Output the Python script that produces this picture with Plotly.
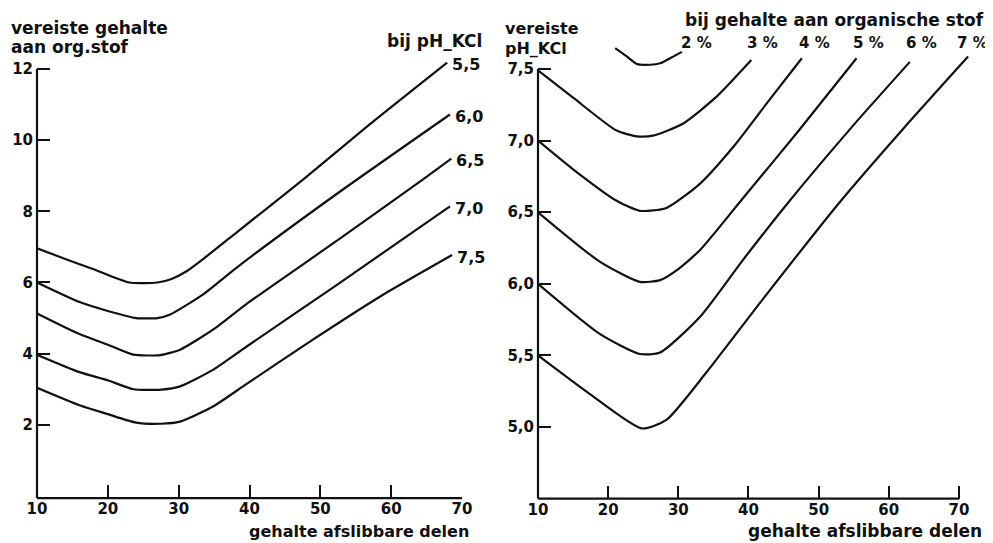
import plotly.graph_objects as go

# Page is shown with an 8px body margin, so the figure is laid out in page pixels minus that.
PAGE_W, PAGE_H = 993, 543
OFF = 8
W, H = PAGE_W - OFF, PAGE_H - OFF

# ---------------- Left chart: required organic matter (%) per pH-KCl ----------------
ph_labels = ["5,5", "6,0", "6,5", "7,0", "7,5"]
x_ph55 = [10, 14, 18, 23, 27, 29, 31, 33.4, 38.2, 47.6, 57, 67.9]
y_ph55 = [6.96, 6.66, 6.37, 6.0, 6.0, 6.1, 6.3, 6.65, 7.41, 8.9, 10.45, 12.18]
x_ph60 = [10, 16, 20, 24, 27, 28.8, 33.4, 38.2, 52.4, 68.3]
y_ph60 = [6.0, 5.45, 5.2, 5.0, 5.0, 5.1, 5.66, 6.42, 8.5, 10.72]
x_ph65 = [10, 16, 20, 23.6, 27.4, 30.2, 34.9, 39.6, 52.6, 64.5, 68.5]
y_ph65 = [5.13, 4.55, 4.25, 3.97, 3.96, 4.11, 4.68, 5.4, 7.21, 8.9, 9.48]
x_ph70 = [10, 16, 20, 23.6, 27.6, 30.2, 34.9, 39.6, 52.4, 68.3]
y_ph70 = [3.97, 3.48, 3.25, 3.0, 2.99, 3.08, 3.55, 4.2, 5.94, 8.14]
x_ph75 = [10, 16, 20, 24, 27.5, 30.2, 34.9, 39.6, 49, 58.4, 68.6]
y_ph75 = [3.04, 2.55, 2.3, 2.06, 2.03, 2.09, 2.52, 3.15, 4.4, 5.6, 6.77]
left_series = [(x_ph55, y_ph55), (x_ph60, y_ph60), (x_ph65, y_ph65),
               (x_ph70, y_ph70), (x_ph75, y_ph75)]
left_yticks = [2, 4, 6, 8, 10, 12]

# ---------------- Right chart: required pH-KCl per organic matter % ----------------
om_labels = ["2 %", "3 %", "4 %", "5 %", "6 %", "7 %"]
x_om2 = [21, 22.6, 24.1, 26, 27.4, 29, 30.5]
y_om2 = [7.646, 7.59, 7.535, 7.53, 7.54, 7.58, 7.62]
x_om3 = [10, 15, 21.2, 24.1, 26.4, 30.7, 35.45, 40.4]
y_om3 = [7.49, 7.30, 7.07, 7.03, 7.035, 7.12, 7.307, 7.563]
x_om4 = [10, 15, 21.2, 24.5, 28.3, 33.1, 37.85, 42.6, 47.6]
y_om4 = [7.0, 6.80, 6.58, 6.51, 6.53, 6.70, 6.957, 7.26, 7.575]
x_om5 = [10, 18.8, 24.5, 27.4, 29.8, 33.1, 39, 47, 55.4]
y_om5 = [6.5, 6.155, 6.014, 6.026, 6.096, 6.236, 6.585, 7.06, 7.575]
x_om6 = [10, 18.8, 24.5, 27.4, 33.1, 39.2, 45.7, 55, 63]
y_om6 = [6.0, 5.65, 5.51, 5.52, 5.77, 6.166, 6.57, 7.11, 7.55]
x_om7 = [10, 17.4, 24.8, 28.3, 33.9, 42, 53, 62, 71.3]
y_om7 = [5.5, 5.23, 4.99, 5.05, 5.375, 5.89, 6.57, 7.08, 7.587]
right_series = [(x_om2, y_om2), (x_om3, y_om3), (x_om4, y_om4),
                (x_om5, y_om5), (x_om6, y_om6), (x_om7, y_om7)]
right_yticks = [5.0, 5.5, 6.0, 6.5, 7.0, 7.5]
right_yticktext = ["5,0", "5,5", "6,0", "6,5", "7,0", "7,5"]

xticks = [10, 20, 30, 40, 50, 60, 70]

# axis ranges
L_XR = [10, 70]
L_YR = [-0.06, 12.3]
R_XR = [10, 72]
R_YR = [4.5, 7.7]

FONT = "DejaVu Sans"
INK = "#111111"


def pxx(xp):
    return (xp - OFF) / W


def pxy(yp):
    return 1 - (yp - OFF) / H


fig = go.Figure()

line_style = dict(color=INK, width=2.2, shape="spline", smoothing=0.6)
for xs, ys in left_series:
    fig.add_trace(go.Scatter(x=xs, y=ys, mode="lines", line=line_style,
                             xaxis="x", yaxis="y", showlegend=False, hoverinfo="skip"))
for xs, ys in right_series:
    fig.add_trace(go.Scatter(x=xs, y=ys, mode="lines", line=line_style,
                             xaxis="x2", yaxis="y2", showlegend=False, hoverinfo="skip"))

tickfont = dict(family=FONT, size=15, color=INK, weight="bold")
axis_common = dict(showgrid=False, zeroline=False, showline=False, automargin=False,
                   ticks="inside", ticklen=13, tickwidth=2, tickcolor=INK,
                   tickfont=tickfont, fixedrange=True)

fig.update_layout(
    width=W, height=H,
    margin=dict(l=0, r=0, t=0, b=0, autoexpand=False),
    paper_bgcolor="white", plot_bgcolor="white",
    xaxis=dict(domain=[pxx(37), pxx(462)], range=L_XR, tickvals=xticks,
               anchor="y", **axis_common),
    yaxis=dict(domain=[pxy(498.1), pxy(58.3)], range=L_YR, tickvals=left_yticks,
               anchor="x", ticklabelstandoff=3, **axis_common),
    xaxis2=dict(domain=[pxx(538), pxx(973)], range=R_XR, tickvals=xticks,
                anchor="y2", **axis_common),
    yaxis2=dict(domain=[pxy(498.6), pxy(40.4)], range=R_YR, tickvals=right_yticks,
                ticktext=right_yticktext, anchor="x2", ticklabelstandoff=3, **axis_common),
)

# axis lines (drawn only over the labelled span)
ax_line = dict(color=INK, width=2.2)


def frac(v, r):
    return (v - r[0]) / (r[1] - r[0])


fig.add_shape(type="line", xref="x domain", yref="y domain", x0=0, x1=0,
              y0=0, y1=frac(12, L_YR), line=ax_line)
fig.add_shape(type="line", xref="x domain", yref="y domain", x0=0, x1=frac(70, L_XR),
              y0=0, y1=0, line=ax_line)
fig.add_shape(type="line", xref="x2 domain", yref="y2 domain", x0=0, x1=0,
              y0=0, y1=frac(7.5, R_YR), line=ax_line)
fig.add_shape(type="line", xref="x2 domain", yref="y2 domain", x0=0, x1=frac(70, R_XR),
              y0=0, y1=0, line=ax_line)


def ann(text, xp, yp, xanchor="left", size=17):
    fig.add_annotation(text=text, x=pxx(xp), y=pxy(yp), xref="paper", yref="paper",
                       xanchor=xanchor, yanchor="middle", showarrow=False,
                       font=dict(family=FONT, size=size, color=INK, weight="bold"))


# left titles
ann("vereiste gehalte", 9, 28)
ann("aan org.stof", 9, 47)
ann("bij pH_KCl", 434, 41, xanchor="center")
ann("gehalte afslibbare delen", 471, 531, xanchor="right", size=16)

# curve labels at the end of each left curve
for lab, (xs, ys) in zip(ph_labels, left_series):
    fig.add_annotation(text=lab, x=xs[-1], y=ys[-1], xref="x", yref="y",
                       xanchor="left", yanchor="middle", xshift=3, yshift=-2,
                       showarrow=False,
                       font=dict(family=FONT, size=16, color=INK, weight="bold"))

# right titles
ann("vereiste", 503, 28, size=16)
ann("pH_KCl", 503, 48, size=16)
ann("bij gehalte aan organische stof", 683, 20)
ann("gehalte afslibbare delen", 984, 531, xanchor="right", size=17)

pct_x = [696, 762, 814, 868, 921, 972]
for lab, xp in zip(om_labels, pct_x):
    ann(lab, xp, 43, xanchor="center", size=15)

fig.write_html("out.html")
